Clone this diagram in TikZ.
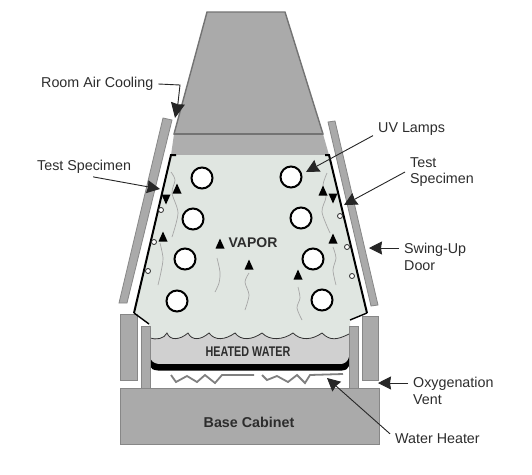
\documentclass[tikz,border=0pt]{standalone}
\usepackage{fontspec}
\setmainfont{Liberation Sans}
\definecolor{hoodgrey}{RGB}{170, 170, 170}
\definecolor{edgegrey}{RGB}{135, 135, 135}
\definecolor{vaporgreen}{RGB}{224, 230, 225}
\definecolor{watergrey}{RGB}{208, 208, 208}
\definecolor{labelink}{RGB}{45, 45, 45}
\usetikzlibrary{arrows.meta, calc}

\begin{document}
\begin{tikzpicture}[
  x=1pt, y=-1pt,
  lbl/.style={anchor=west, align=left, inner ysep=0pt, inner xsep=5pt, text=labelink, font=\fontsize{14.3}{16.5}\selectfont},
  boldlbl/.style={inner sep=0pt, text=labelink, font=\fontsize{14.3}{16.5}\selectfont\bfseries},
  lamp/.style={circle, draw, fill=white, line width=2pt, minimum size=21pt, inner sep=0pt},
  body/.style={fill=hoodgrey, draw=edgegrey, line width=.8pt},
  leader/.style={-{Stealth[length=13pt,width=13pt,inset=1pt]}, draw=black!85, line width=.9pt},
  wisp/.style={draw=black!35, line width=.7pt},
  wall/.style={draw=black, line width=2pt}
]
  \useasboundingbox (0,0) rectangle (532,474);
  \fill[white] (0,0) rectangle (532,474);

  \draw[body, draw=black!55, line width=1.4pt] (207,12) -- (285,12) -- (323,134) -- (174,134) -- cycle;
  \fill[hoodgrey!95!white] (174,134) -- (323,134) -- (329,155) -- (171,155) -- cycle;
  \draw[black!55, line width=2.4pt] (174,134) -- (323,134);

  \fill[vaporgreen] (171,155) -- (329,155) -- (367,313) -- (350,320) -- (350,345) -- (149,345) -- (149,324) -- (134,313) -- cycle;

  \fill[watergrey] (150,338)
    .. controls +(6,2) and +(-3,6) .. (167,333)
    .. controls +(3,8) and +(-8,7) .. (188,333)
    .. controls +(4,8) and +(-8,7) .. (209,333)
    .. controls +(6,8) and +(-10,7) .. (235,333)
    .. controls +(6,8) and +(-10,7) .. (262,333)
    .. controls +(8,8) and +(-10,7) .. (293,333)
    .. controls +(8,8) and +(-10,7) .. (322,333)
    .. controls +(8,8) and +(-12,6) .. (349,334)
    -- (349,364) -- (150,364) -- cycle;
  \draw[black!80, line width=.8pt] (150,338)
    .. controls +(6,2) and +(-3,6) .. (167,333)
    .. controls +(3,8) and +(-8,7) .. (188,333)
    .. controls +(4,8) and +(-8,7) .. (209,333)
    .. controls +(6,8) and +(-10,7) .. (235,333)
    .. controls +(6,8) and +(-10,7) .. (262,333)
    .. controls +(8,8) and +(-10,7) .. (293,333)
    .. controls +(8,8) and +(-10,7) .. (322,333)
    .. controls +(8,8) and +(-12,6) .. (349,334);
  \fill[black] (150,357) .. controls (151,361) and (153,363) .. (158,364) -- (342,364) .. controls (346,363) and (348,361) .. (349,357) -- (349,366) .. controls (348,369) and (346,370) .. (342,370.5) -- (158,370.5) .. controls (153,370) and (151,369) .. (150,366) -- cycle;

  \draw[body] (163,118) -- (172,120) -- (127,303) -- (119,303) -- cycle;
  \draw[body] (328,122) -- (335,121) -- (378,305) -- (371,306) -- cycle;
  \draw[body] (120,314) rectangle (137,380);
  \draw[body] (362,316) rectangle (378,380);
  \draw[body] (141,326) rectangle (150,389);
  \draw[body] (349,326) rectangle (358,389);
  \draw[body] (120,388) rectangle (379,444);

  \draw[wall] (176,155) -- (171,155) -- (134,313);
  \draw[wall, line width=1.4pt] (134,313) -- (149,324);
  \draw[wall] (325,155) -- (329,155) -- (367,313);
  \draw[wall, line width=1.4pt] (367,313) -- (350,320);

  \draw[black!50, line width=1.8pt] (171,375) -- (176,382) -- (187,376) -- (197,382) -- (205,375) -- (215,383) -- (222,375) -- (254,375);
  \draw[black!50, line width=1.8pt] (262,375) -- (267,380) -- (277,376) -- (288,382) -- (297,375) -- (305,383) -- (310,375) -- (343,374);

  \foreach \i/\x/\y in {1/202/178, 2/291/177, 3/193/219, 4/301/218, 5/185/259, 6/313/259, 7/177/301, 8/322/300}
    \node[lamp] (lamp\i) at (\x,\y) {};

  \draw[wisp] plot[smooth] coordinates {(171,172) (175,180) (172,193) (178,213) (172,237)};
  \draw[wisp] plot[smooth] coordinates {(160,243) (163,258) (161,272) (158,285)};
  \draw[wisp] plot[smooth] coordinates {(217,258) (220,272) (219,283) (215,292)};
  \draw[wisp] plot[smooth] coordinates {(249,273) (245,282) (249,295) (245,310)};
  \draw[wisp] plot[smooth] coordinates {(298,287) (300,298) (297,308) (302,320)};
  \draw[wisp] plot[smooth] coordinates {(333,247) (336,258) (333,270) (336,285)};
  \draw[wisp] plot[smooth] coordinates {(327,173) (323,185) (326,197) (322,212) (330,233)};

  \foreach \x/\y in {177/189, 323/191, 163/237, 333/239, 220/244, 249/265, 298/275}
    \fill[black] (\x,\y) ++(-4.5,4.5) -- ++(9,0) -- ++(-4.5,-10) -- cycle;
  \foreach \x/\y in {166/199, 333/198}
    \fill[black] (\x,\y) ++(-4.5,-4.5) -- ++(9,0) -- ++(-4.5,10) -- cycle;
  \foreach \x/\y in {161/210, 340/216, 154/242, 148/271, 347/247, 352/276}
    \draw[fill=white, draw=black!85, line width=.8pt] (\x,\y) circle (2.5);

  \node[boldlbl, font=\fontsize{14}{16.5}\selectfont\bfseries] (lblVapor) at (253,243) {VAPOR};
  \node[boldlbl, font=\fontsize{14}{16.5}\selectfont\bfseries] (lblWater) at (248,352) {\scalebox{.77}[1]{HEATED WATER}};
  \node[boldlbl] (lblBase) at (249,422) {Base Cabinet};

  \node[lbl] (lblRoom) at (36,84) {Room Air Cooling};
  \node[lbl] (lblSpecL) at (32,167) {Test Specimen};
  \node[lbl] (lblUV) at (373,129) {UV Lamps};
  \node[lbl] (lblSpecR) at (405,172) {Test\\Specimen};
  \node[lbl] (lblSwing) at (399,257) {Swing-Up\\Door};
  \node[lbl] (lblOxy) at (408,391) {Oxygenation\\Vent};
  \node[lbl] (lblHeater) at (390,439) {Water Heater};

  \coordinate (roomBend) at (180,85);
  \coordinate (roomKink) at (178,103);
  \coordinate (roomTip) at (175,118);
  \coordinate (specLTip) at (160,189);
  \coordinate (uvTip) at (306,172);
  \coordinate (specRTip) at (344,205);
  \coordinate (swingTip) at (369,248);
  \coordinate (oxyTip) at (378,383);
  \coordinate (heaterTip) at (327,378);

  \draw[draw=black!85, line width=.9pt] (lblRoom.east) -- (roomBend) -- (roomKink);
  \draw[leader, -{Stealth[length=15pt,width=14pt,inset=1pt]}] (roomKink) -- (roomTip);
  \draw[leader] ($(lblSpecL.south)+(9,3)$) -- (specLTip);
  \draw[leader] (lblUV.south west) -- (uvTip);
  \draw[leader] (lblSpecR.west) -- (specRTip);
  \draw[leader] (lblSwing.west |- swingTip) -- (swingTip);
  \draw[leader] (lblOxy.west |- oxyTip) -- (oxyTip);
  \draw[leader] (lblHeater.north west) -- (heaterTip);
\end{tikzpicture}
\end{document}
